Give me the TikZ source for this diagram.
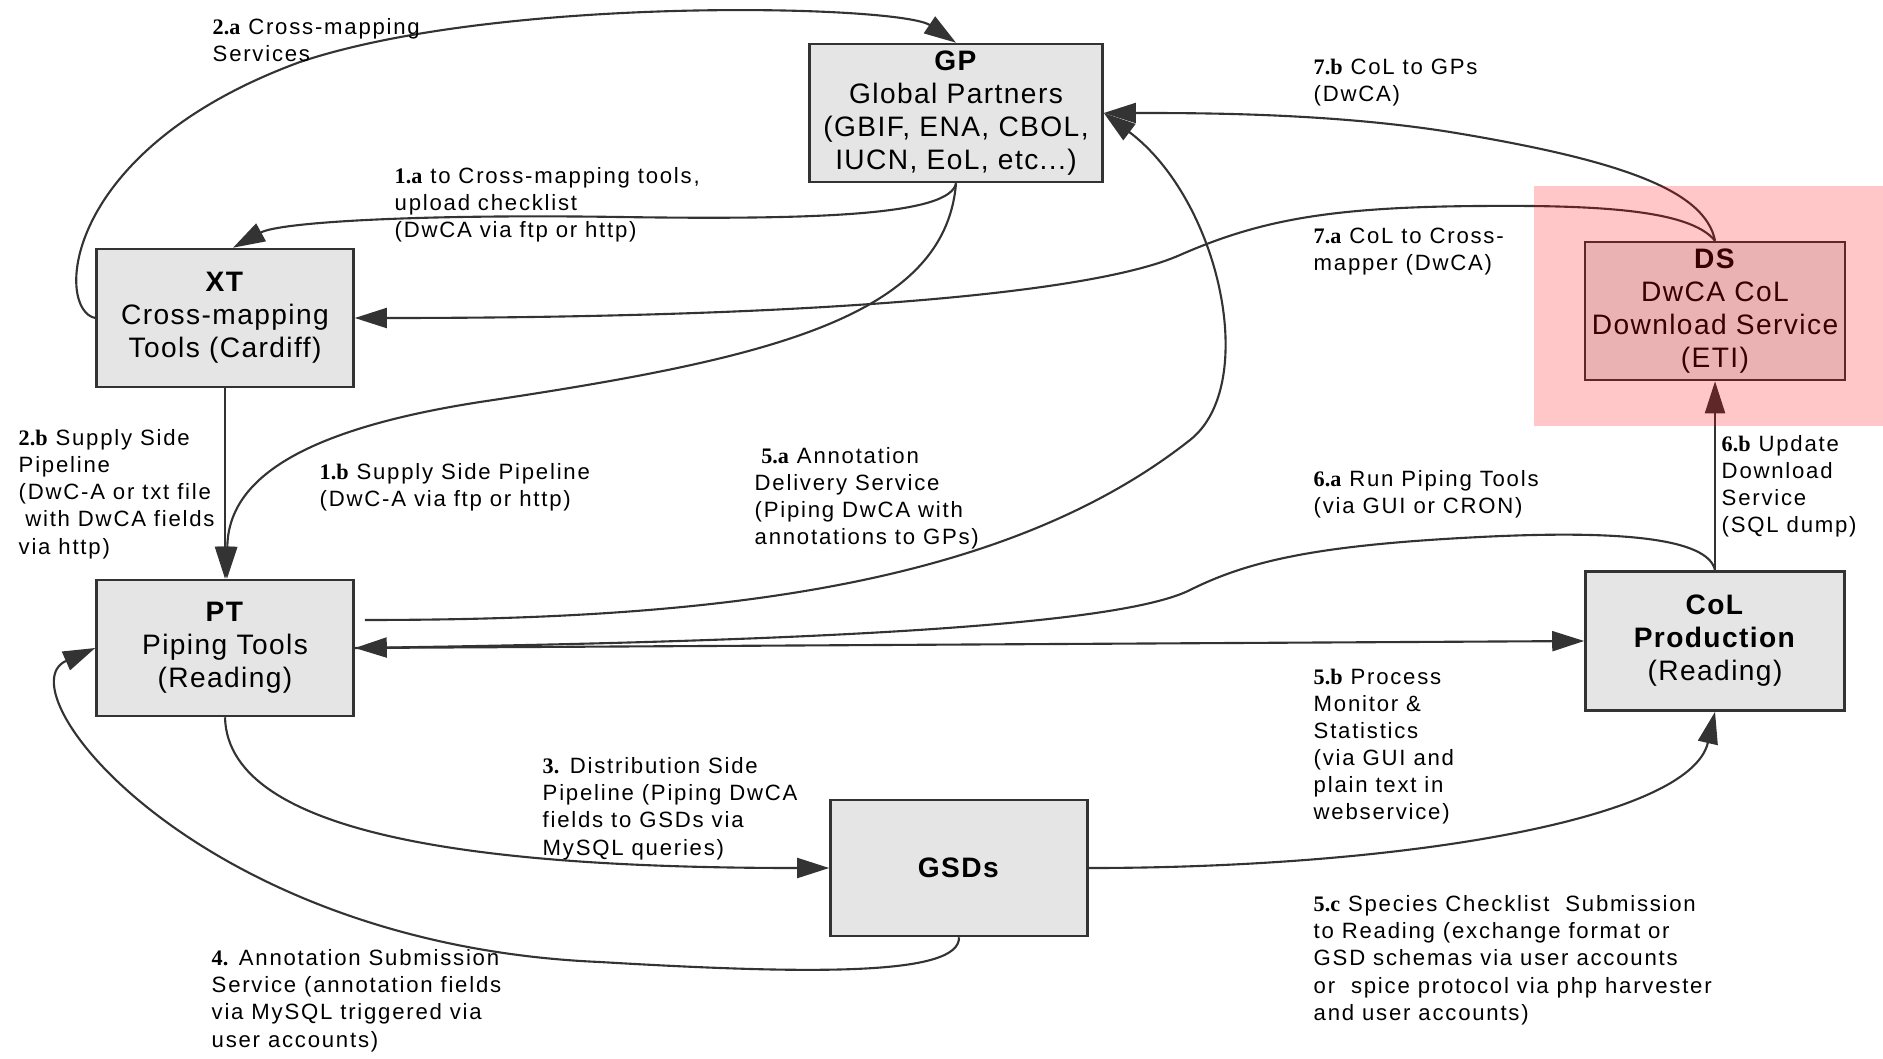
\documentclass[tikz,border=0pt]{standalone}
\usepackage{fontspec}
\setmainfont{Liberation Sans}
\newfontfamily\boxfont{Liberation Sans}[LetterSpace=5]
\newfontfamily\lblfont{Liberation Sans}[LetterSpace=8]
\newfontfamily\numfont{Liberation Serif}
\usepackage{tikz}
\usetikzlibrary{arrows.meta}
\usepackage{xcolor}
\newcommand{\stepno}[1]{{\numfont\bfseries #1}}

\begin{document}
\begin{tikzpicture}[x=0.01cm, y=-0.01cm,
  box/.style={draw=black!80, line width=0.7pt, fill=black!10, minimum width=2.57cm,
    minimum height=1.38cm, align=center, inner sep=0pt,
    font=\boxfont\fontsize{8}{9.4}\selectfont},
  lbl/.style={anchor=north west, align=left, inner sep=0pt,
    font=\lblfont\fontsize{6.3}{7.7}\selectfont},
  flow/.style={draw=black!80, line width=0.6pt, -{Triangle[length=0.32cm, width=0.2cm]}}]
\useasboundingbox (0,0) rectangle (1883,1058);

% Boxes
\node[box, minimum width=2.93cm] (gp) at (956,113) {\textbf{GP}\\Global Partners\\(GBIF, ENA, CBOL,\\IUCN, EoL, etc...)};
\node[box] (xt) at (225,318) {\textbf{XT}\\Cross-mapping\\Tools (Cardiff)};
\node[box, minimum width=2.6cm] (ds) at (1715,311) {\textbf{DS}\\DwCA CoL\\Download Service\\(ETI)};
\node[box, minimum height=1.36cm] (pt) at (225,648) {\textbf{PT}\\Piping Tools\\(Reading)};
\node[box, minimum height=1.36cm] (gsds) at (959,868) {\textbf{GSDs}};
\node[box, minimum width=2.59cm, minimum height=1.39cm] (col) at (1715,641) {\textbf{CoL}\\\textbf{Production}\\(Reading)};

% Straight arrows
\draw[flow] (xt.south) -- (pt.north);
\draw[flow] (col.north) -- (ds.south);
\draw[flow] (pt.east) -- (col.west);

% Curved arrows
\draw[flow] (xt.west) .. controls (55,310) and (60,150) .. (300,62) .. controls (500,-5) and (900,5) .. (gp.north);
\draw[flow] (gp.south) .. controls (950,215) and (820,220) .. (620,217) .. controls (420,214) and (280,222) .. ([xshift=0.08cm]xt.north);
\draw[flow] (gp.south) .. controls (945,320) and (760,360) .. (480,402) .. controls (300,430) and (228,480) .. ([xshift=0.02cm]pt.north);
\draw[flow] (ds.north) .. controls (1705,190) and (1620,160) .. (1450,132) .. controls (1330,113) and (1200,113) .. (gp.east);
\draw[flow] ([xshift=0.1cm, yshift=0.28cm]pt.east) .. controls (700,620) and (1000,590) .. (1190,440) .. controls (1260,385) and (1220,200) .. (gp.east);
\draw[flow] (ds.north) .. controls (1690,210) and (1600,205) .. (1480,206) .. controls (1330,207) and (1260,220) .. (1180,255) .. controls (1090,295) and (800,318) .. (xt.east);
\draw[flow] (col.north) .. controls (1708,538) and (1620,530) .. (1480,537) .. controls (1320,545) and (1250,560) .. (1190,590) .. controls (1130,620) and (900,640) .. (pt.east);
\draw[flow] (pt.south) .. controls (228,840) and (500,868) .. (gsds.west);
\draw[flow] (gsds.south) .. controls (960,975) and (820,975) .. (600,962) .. controls (200,945) and (0,690) .. (pt.west);
\draw[flow] (gsds.east) .. controls (1400,868) and (1690,820) .. (col.south);

% Labels
\node[lbl] (l2a) at (212,18) {\stepno{2.a} Cross-mapping\\Services};
\node[lbl] (l1a) at (394,167) {\stepno{1.a} to Cross-mapping tools,\\upload checklist\\(DwCA via ftp or http)};
\node[lbl] (l7b) at (1313,58) {\stepno{7.b} CoL to GPs\\(DwCA)};
\node[lbl] (l7a) at (1313,227) {\stepno{7.a} CoL to Cross-\\mapper (DwCA)};
\node[lbl] (l2b) at (18,429) {\stepno{2.b} Supply Side\\Pipeline\\(DwC-A or txt file\\\hspace{0.3em}with DwCA fields\\via http)};
\node[lbl] (l1b) at (319,463) {\stepno{1.b} Supply Side Pipeline\\(DwC-A via ftp or http)};
\node[lbl] (l5a) at (754,447) {\hspace{0.3em}\stepno{5.a} Annotation\\Delivery Service\\(Piping DwCA with\\annotations to GPs)};
\node[lbl] (l6a) at (1313,470) {\stepno{6.a} Run Piping Tools\\(via GUI or CRON)};
\node[lbl] (l6b) at (1721,435) {\stepno{6.b} Update\\Download\\Service\\(SQL dump)};
\node[lbl] (l5b) at (1313,668) {\stepno{5.b} Process\\Monitor \&\\Statistics\\(via GUI and\\plain text in\\webservice)};
\node[lbl] (l3) at (542,757) {\stepno{3.} Distribution Side\\Pipeline (Piping DwCA\\fields to GSDs via\\MySQL queries)};
\node[lbl] (l4) at (211,949) {\stepno{4.} Annotation Submission\\Service (annotation fields\\via MySQL triggered via\\user accounts)};
\node[lbl] (l5c) at (1313,895) {\stepno{5.c} Species Checklist\ \ Submission\\to Reading (exchange format or\\GSD schemas via user accounts\\or\ \ spice protocol via php harvester\\and user accounts)};

% Highlight
\fill[red, opacity=0.22] (1534,186) rectangle (1883,426);
\end{tikzpicture}
\end{document}
